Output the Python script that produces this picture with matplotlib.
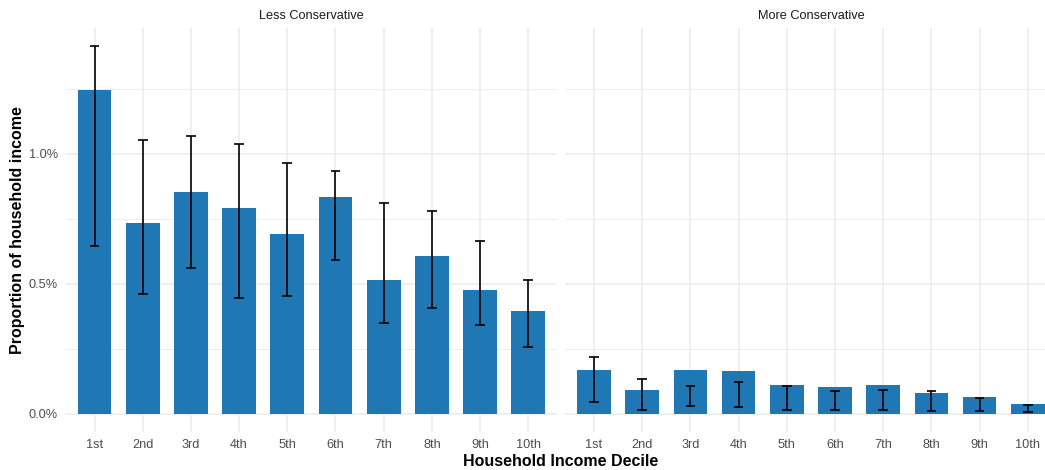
import matplotlib
matplotlib.use("Agg")
import matplotlib.pyplot as plt
from matplotlib.ticker import FixedLocator, FuncFormatter
import numpy as np

plt.rcParams["font.family"] = ["Liberation Sans", "DejaVu Sans"]

# Household income deciles and facet panels
deciles = ["1st", "2nd", "3rd", "4th", "5th", "6th", "7th", "8th", "9th", "10th"]
panels = ["Less Conservative", "More Conservative"]

# Proportion of household income (in percent), with lower/upper interval bounds
less_mean = [1.244, 0.735, 0.851, 0.792, 0.693, 0.832, 0.516, 0.605, 0.477, 0.395]
less_low = [0.646, 0.459, 0.562, 0.444, 0.452, 0.590, 0.347, 0.408, 0.340, 0.257]
less_high = [1.413, 1.054, 1.068, 1.038, 0.963, 0.932, 0.812, 0.779, 0.665, 0.516]

more_mean = [0.166, 0.091, 0.167, 0.164, 0.109, 0.103, 0.109, 0.078, 0.064, 0.038]
more_low = [0.046, 0.013, 0.030, 0.024, 0.015, 0.013, 0.015, 0.009, 0.012, 0.006]
more_high = [0.216, 0.132, 0.107, 0.121, 0.105, 0.086, 0.090, 0.086, 0.059, 0.033]

BAR_COLOR = "#1F77B4"
GRID_COLOR = "#EBEBEB"
TEXT_COLOR = "#4D4D4D"

W, H = 1045, 470
fig = plt.figure(figsize=(W / 100, H / 100), dpi=100)
fig.patch.set_facecolor("white")

# Panel geometry in pixels (left, top); shared width and bottom edge
panel_w = 491.6
boxes = [(65.6, 28.0), (565.1, 28.0)]
panel_bottom = 432.0

ymax = max(max(less_high), max(more_high))
ylim = (-0.05 * ymax, ymax * 1.05)

series = [(less_mean, less_low, less_high), (more_mean, more_low, more_high)]
x = np.arange(len(deciles))
cap_half = 0.1

for i, ((px, py), (mean, lo, hi), title) in enumerate(zip(boxes, series, panels)):
    ax = fig.add_axes([px / W, 1 - panel_bottom / H, panel_w / W, (panel_bottom - py) / H])
    ax.set_facecolor("white")
    for s in ax.spines.values():
        s.set_visible(False)

    ax.bar(x, mean, width=0.7, color=BAR_COLOR, edgecolor="none", zorder=2)
    # interval whiskers with caps
    ax.vlines(x, lo, hi, color="black", linewidth=1.2, zorder=3)
    ax.hlines(lo, x - cap_half, x + cap_half, color="black", linewidth=1.2, zorder=3)
    ax.hlines(hi, x - cap_half, x + cap_half, color="black", linewidth=1.2, zorder=3)

    ax.set_xlim(-0.6, len(deciles) - 0.4)
    ax.set_ylim(*ylim)

    ax.yaxis.set_major_locator(FixedLocator([0.0, 0.5, 1.0]))
    ax.yaxis.set_minor_locator(FixedLocator([0.25, 0.75, 1.25]))
    ax.yaxis.set_major_formatter(FuncFormatter(lambda v, p: f"{v:.1f}%"))
    ax.set_xticks(x)
    ax.set_xticklabels(deciles)

    ax.grid(True, which="major", axis="both", color=GRID_COLOR, linewidth=1.1, zorder=0)
    ax.grid(True, which="minor", axis="y", color=GRID_COLOR, linewidth=0.6, zorder=0)
    ax.set_axisbelow(True)

    ax.tick_params(axis="both", which="both", length=0, labelsize=9.2, labelcolor=TEXT_COLOR)
    ax.tick_params(axis="x", pad=5)
    ax.tick_params(axis="y", pad=5.5)
    if i == 1:
        ax.tick_params(axis="y", labelleft=False)

    fig.text((px + panel_w / 2) / W, 1 - 15.7 / H, title, ha="center", va="center",
             fontsize=9.2, color="#1A1A1A")

fig.text(17.5 / W, 1 - 230 / H, "Proportion of household income", rotation=90,
         ha="center", va="center", fontsize=11.5, fontweight="bold", color="black")
fig.text(561 / W, 1 - 462 / H, "Household Income Decile", ha="center", va="center",
         fontsize=11.5, fontweight="bold", color="black")

fig.savefig("out.png", dpi=100, facecolor="white")
